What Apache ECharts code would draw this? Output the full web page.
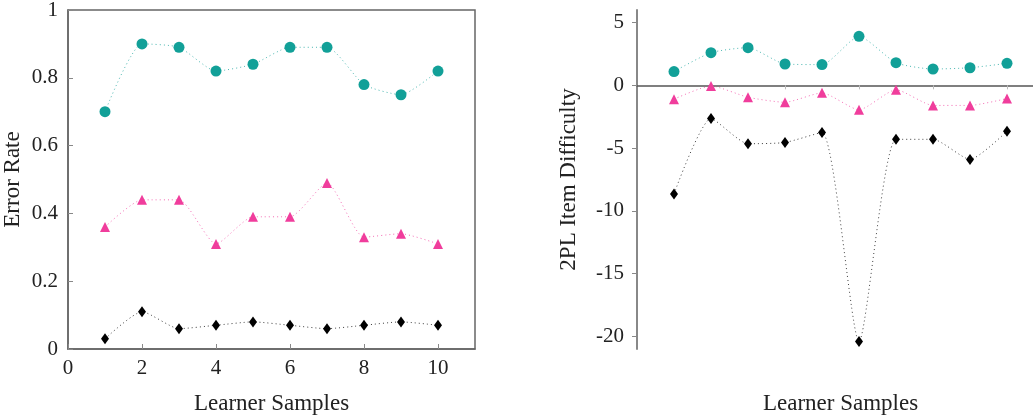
<!DOCTYPE html>
<html>
<head>
<meta charset="utf-8">
<script src="https://cdn.jsdelivr.net/npm/echarts@6/dist/echarts.min.js"></script>
<style>
  html, body { margin: 0; padding: 0; background: #ffffff; }
  #chart { width: 1033px; height: 415px; }
</style>
</head>
<body>
<div id="chart"></div>
<script>
// learner samples 1..10
const samples = [1, 2, 3, 4, 5, 6, 7, 8, 9, 10];

// left panel: error rate
const errTeal = [0.70, 0.90, 0.89, 0.82, 0.84, 0.89, 0.89, 0.78, 0.75, 0.82];
const errPink = [0.36, 0.44, 0.44, 0.31, 0.39, 0.39, 0.49, 0.33, 0.34, 0.31];
const errBlack = [0.03, 0.11, 0.06, 0.07, 0.08, 0.07, 0.06, 0.07, 0.08, 0.07];

// right panel: 2PL item difficulty
const diffTeal = [1.1, 2.6, 3.0, 1.7, 1.65, 3.9, 1.8, 1.3, 1.4, 1.75];
const diffPink = [-1.1, -0.05, -0.95, -1.35, -0.6, -1.95, -0.35, -1.6, -1.6, -1.05];
const diffBlack = [-8.65, -2.65, -4.65, -4.55, -3.75, -20.4, -4.3, -4.3, -5.9, -3.65];

const xTicks = [0, 2, 4, 6, 8, 10];
const errTicks = [0, 0.2, 0.4, 0.6, 0.8, 1];
const diffTicks = [5, 0, -5, -10, -15, -20];

const TEAL = "#12a098";
const PINK = "#f03d9c";
const BLACK = "#000000";
const font = "Liberation Serif";
const fs = 21;   // tick labels
const nfs = 23;  // axis names

function pairs(ys) {
  return samples.map((x, i) => [x, ys[i]]);
}

function line(name, ys, color, symbol, size, axis) {
  return {
    name: name,
    type: "line",
    xAxisIndex: axis,
    yAxisIndex: axis,
    data: pairs(ys),
    smooth: 0.2,
    symbol: symbol,
    symbolSize: size,
    showSymbol: true,
    itemStyle: { color: color },
    lineStyle: { color: color, width: 1, type: [1, 3], opacity: 0.75 },
    z: 3,
  };
}

let myChart = echarts.init(document.getElementById("chart"));

let options = {
  animation: false,
  textStyle: { fontFamily: font },
  grid: [
    {
      left: 68, top: 10, width: 407, height: 339,
      outerBoundsMode: "none", containLabel: false,
      show: true, borderColor: "#666", borderWidth: 1.5,
    },
    {
      left: 637, top: 10, width: 407, height: 339,
      outerBoundsMode: "none", containLabel: false,
    },
  ],
  xAxis: [
    {
      gridIndex: 0,
      type: "value",
      min: 0,
      max: 11,
      name: "Learner Samples",
      nameLocation: "middle",
      nameGap: 43,
      nameTextStyle: { fontSize: nfs, color: "#222", fontFamily: font },
      axisLine: { lineStyle: { color: "#666", width: 1.5 } },
      axisTick: { inside: true, length: 5, customValues: xTicks, lineStyle: { color: "#888" } },
      axisLabel: { customValues: xTicks, fontSize: fs, color: "#222", fontFamily: font, margin: 9 },
      splitLine: { show: false },
    },
    {
      gridIndex: 1,
      type: "value",
      min: 0,
      max: 11,
      axisLine: { onZero: true, lineStyle: { color: "#555", width: 1.5 } },
      axisTick: { length: 4, customValues: [2, 4, 6, 8, 10], lineStyle: { color: "#bbb" } },
      axisLabel: { show: false },
      splitLine: { show: false },
    },
    {
      gridIndex: 1,
      type: "value",
      min: 0,
      max: 11,
      position: "bottom",
      name: "Learner Samples",
      nameLocation: "middle",
      nameGap: 43,
      nameTextStyle: { fontSize: nfs, color: "#222", fontFamily: font },
      axisLine: { show: false, onZero: false },
      axisTick: { show: false },
      axisLabel: { show: false },
      splitLine: { show: false },
    },
  ],
  yAxis: [
    {
      gridIndex: 0,
      type: "value",
      min: 0,
      max: 1,
      name: "Error Rate",
      nameLocation: "middle",
      nameGap: 44,
      nameTextStyle: { fontSize: nfs, color: "#222", fontFamily: font },
      axisLine: { lineStyle: { color: "#666", width: 1.5 } },
      axisTick: { inside: true, length: 5, customValues: errTicks, lineStyle: { color: "#888" } },
      axisLabel: { customValues: errTicks, fontSize: fs, color: "#222", fontFamily: font, margin: 10 },
      splitLine: { show: false },
    },
    {
      gridIndex: 1,
      type: "value",
      min: -21,
      max: 6,
      name: "2PL Item Difficulty",
      nameLocation: "middle",
      nameGap: 57,
      nameTextStyle: { fontSize: nfs, color: "#222", fontFamily: font },
      axisLine: { onZero: false, lineStyle: { color: "#888", width: 2 } },
      axisTick: { length: 5, customValues: diffTicks, lineStyle: { color: "#888" } },
      axisLabel: { customValues: diffTicks, fontSize: fs, color: "#222", fontFamily: font, margin: 13 },
      splitLine: { show: false },
    },
  ],
  series: [
    line("teal", errTeal, TEAL, "circle", 11, 0),
    line("pink", errPink, PINK, "triangle", 10, 0),
    line("black", errBlack, BLACK, "diamond", [8, 11], 0),
    line("teal", diffTeal, TEAL, "circle", 11, 1),
    line("pink", diffPink, PINK, "triangle", 10, 1),
    line("black", diffBlack, BLACK, "diamond", [8, 11], 1),
  ],
};

myChart.setOption(options);
</script>
</body>
</html>
